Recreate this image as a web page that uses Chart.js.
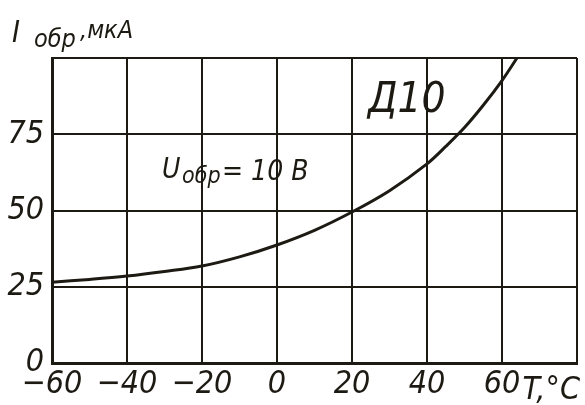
<!DOCTYPE html>
<html>
<head>
<meta charset="utf-8">
<script src="https://cdn.jsdelivr.net/npm/chart.js@4.4.1/dist/chart.umd.min.js"></script>
<style>
  html, body { margin: 0; padding: 0; background: #fff; }
  #wrap { width: 585px; height: 405px; position: relative; }
</style>
</head>
<body>
<div id="wrap"><canvas id="chart" width="585" height="405"></canvas></div>
<script>
  // Reverse current of Д10 vs temperature
  const temps = [-60, -50, -40, -30, -20, -10, 0, 10, 20, 30, 40, 45, 50, 55, 60, 64];
  const currents = [26.5, 27.4, 28.5, 30, 31.8, 34.8, 38.7, 43.5, 49.5, 56.5, 65.3, 71, 77.2, 84.5, 92.6, 100];
  const xTicks = [-60, -40, -20, 0, 20, 40, 60];
  const yTicks = [0, 25, 50, 75];

  const INK = '#1c1a12';
  const FONT = '"Liberation Sans Narrow", "DejaVu Sans Condensed", "DejaVu Sans", sans-serif';

  // draw axis titles and curve notes as text on the canvas
  const notes = {
    id: 'notes',
    afterDraw(chart) {
      const ctx = chart.ctx;
      ctx.save();
      ctx.fillStyle = INK;
      ctx.textBaseline = 'alphabetic';
      ctx.textAlign = 'left';

      // y title
      ctx.font = 'italic 30px ' + FONT;
      ctx.fillText('I', 12, 42);
      ctx.font = 'italic 25px ' + FONT;
      ctx.fillText('обр', 34, 47);
      ctx.fillText(',мкА', 80, 38);

      // x title
      ctx.font = 'italic 32px ' + FONT;
      ctx.textAlign = 'right';
      ctx.fillText('T,°C', 580, 399);

      // curve name
      ctx.textAlign = 'left';
      ctx.font = 'italic 42px ' + FONT;
      ctx.fillText('Д10', 368, 112);

      // voltage
      ctx.font = 'italic 28px ' + FONT;
      ctx.fillText('U', 162, 178);
      ctx.font = 'italic 23px ' + FONT;
      ctx.fillText('обр', 182, 183);
      ctx.font = 'italic 28px ' + FONT;
      ctx.fillText('= 10 В', 222, 180);
      ctx.restore();
    }
  };

  new Chart(document.getElementById('chart'), {
    type: 'line',
    data: {
      labels: temps,
      datasets: [{
        data: temps.map((t, i) => ({ x: t, y: currents[i] })),
        borderColor: INK,
        borderWidth: 3,
        pointRadius: 0,
        tension: 0.35,
        fill: false
      }]
    },
    options: {
      responsive: false,
      animation: false,
      events: [],
      layout: { padding: { top: 58, right: 8, left: 0, bottom: 0 } },
      plugins: {
        legend: { display: false },
        tooltip: { enabled: false }
      },
      scales: {
        x: {
          type: 'linear',
          min: -60,
          max: 80,
          afterBuildTicks: s => { s.ticks = xTicks.concat([80]).map(v => ({ value: v })); },
          afterFit: s => { s.height = 42; s.paddingLeft = 0; s.paddingRight = 0; },
          ticks: {
            color: INK,
            padding: 2,
            maxRotation: 0,
            font: { family: FONT, size: 32, style: 'italic' },
            callback: v => (v === 80 ? '' : String(v).replace('-', '−'))
          },
          grid: { color: INK, lineWidth: 2, drawTicks: false },
          border: { color: INK, width: 3 }
        },
        y: {
          min: 0,
          max: 100,
          afterBuildTicks: s => { s.ticks = yTicks.concat([100]).map(v => ({ value: v })); },
          afterFit: s => { s.width = 52; },
          ticks: {
            color: INK,
            padding: 8,
            font: { family: FONT, size: 32, style: 'italic' },
            callback: v => (v === 100 ? '' : v)
          },
          grid: { color: INK, lineWidth: 2, drawTicks: false },
          border: { color: INK, width: 3 }
        }
      }
    },
    plugins: [notes]
  });
</script>
</body>
</html>
